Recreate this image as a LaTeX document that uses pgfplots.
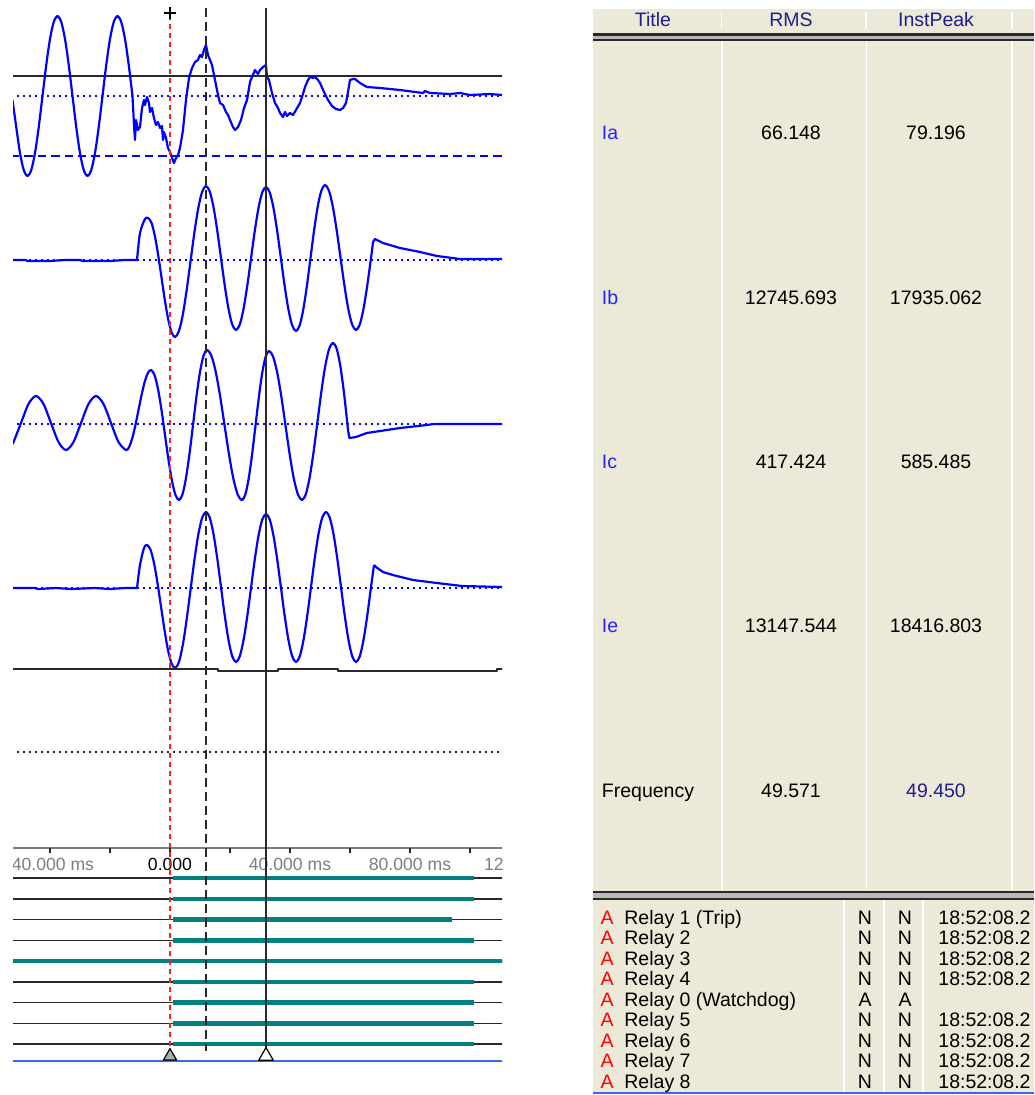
\documentclass[border=0pt]{standalone}
\usepackage{pgfplots}
\pgfplotsset{compat=1.18}
\usepackage{fontspec}
\setmainfont{Liberation Sans}

\definecolor{trace}{RGB}{0,0,255}
\definecolor{panel}{RGB}{236,233,216}
\definecolor{hdr}{RGB}{30,30,140}
\definecolor{lbl}{RGB}{35,35,255}
\definecolor{relayon}{RGB}{0,128,128}
\definecolor{cursorred}{RGB}{255,30,30}
\definecolor{tickgray}{RGB}{125,125,125}
\definecolor{baseblue}{RGB}{55,105,225}
\definecolor{rule}{RGB}{40,40,40}

\newcommand\uifont{\fontsize{9.75pt}{11pt}\selectfont}
\newcommand\tickfont{\fontsize{8.8pt}{10pt}\selectfont}

\begin{document}
\begin{tikzpicture}
\useasboundingbox (0,0) rectangle (517pt,-547.5pt);

% ---------------- waveform / digital channel view ----------------
% x: time in ms relative to trigger, y: screen row (top = 0)
\begin{axis}[
  at={(6.5pt,0pt)}, anchor=north west,
  scale only axis, width=244.5pt, height=547.5pt,
  xmin=-52.333, xmax=110.667, ymin=0, ymax=1095,
  y dir=reverse, enlargelimits=false,
  axis line style={draw=none}, xtick=\empty, ytick=\empty,
  clip=true,
  every axis plot/.append style={line join=round},
]
% channel reference lines
\addplot[rule, line width=1pt] coordinates {(-53,76) (111,76)};
\addplot[trace, line width=1pt, dash pattern=on 1pt off 2pt] coordinates {(-53,96) (111,96)};
\addplot[trace, line width=1pt, dash pattern=on 4.2pt off 2.5pt] coordinates {(-53,156) (111,156)};
\addplot[trace, line width=1pt, dash pattern=on 1pt off 2pt] coordinates {(-53,260) (111,260)};
\addplot[trace, line width=1pt, dash pattern=on 1pt off 2pt] coordinates {(-53,424) (111,424)};
\addplot[trace, line width=1pt, dash pattern=on 1pt off 2pt] coordinates {(-53,588) (111,588)};
\addplot[rule, line width=1pt, dash pattern=on 1pt off 2pt] coordinates {(-53,752) (111,752)};

% Ia
\addplot[trace, line width=1.1pt, smooth] coordinates {
(-52.5,100) (-51.25,127) (-50,153) (-48.75,170) (-47.5,176) (-46.25,170) (-45,153)
(-43.75,127) (-42.5,96) (-41.25,65) (-40,39) (-38.75,22) (-37.5,16) (-36.25,22)
(-35,39) (-33.75,65) (-32.5,96) (-31.25,127) (-30,153) (-28.75,170) (-27.5,176)
(-26.25,170) (-25,153) (-23.75,127) (-22.5,96) (-21.25,65) (-20,39) (-18.75,22)
(-17.5,16) (-16.25,22) (-15,39) (-13.75,65) (-12.5,96)};
\addplot[trace, line width=1.1pt] coordinates {
(-12.5,96) (-12,125) (-11.67,140) (-11.33,120) (-10.67,130) (-10,127) (-9.33,108)
(-8.67,100) (-8.33,105) (-7.67,97) (-7,103) (-6.67,112) (-6,108) (-5.33,118)
(-4.67,125) (-4,122) (-3.33,128) (-2.67,126) (-2.33,140) (-2,132) (-1.33,138)
(-0.67,148) (0,152) (0.67,158) (1.33,163) (2,158) (2.67,155) (3.33,148) (4.33,130)
(5.33,100) (6.33,78) (7.33,68) (8.33,62) (9.33,60) (10,55) (10.67,57) (11.33,50)
(12,45) (12.67,55) (13.33,60) (14,65) (15,80) (16,95) (16.67,103) (17.67,105)
(18.67,112) (19.33,115) (20,120) (21,127) (21.67,130) (22.67,127) (23.67,120)
(24.67,108) (25.67,100) (26.67,82) (27.33,77) (28.33,70) (29.33,74) (30,70)
(31,67) (32,65) (32.33,77) (33,80) (34,93) (35,103) (36,108) (36.67,113)
(37.67,117) (38.33,112) (39,116) (40,113) (41,115) (42,110) (43.33,103) (44.33,94)
(45,87) (46,80) (46.67,77) (47.67,78) (48.33,77) (49.33,80) (50,83) (51.33,92)
(52.67,100) (54,106) (55.33,109) (56.67,110) (57.67,108) (58.67,103) (59.33,92)
(60,80) (61,79) (61.67,79) (63.33,83) (65.67,87) (70,88) (76.67,90) (84.33,93)
(85,91) (86.67,93) (93.33,94) (96.67,93) (100,95) (106.67,94) (110.67,95)};

% Ib
\addplot[trace, line width=1.1pt] coordinates {
(-53,260) (-48,260) (-47.5,261) (-40,261) (-35,260) (-30,260) (-29,261) (-20,261)
(-15,260) (-11,260)};
\addplot[trace, line width=1.1pt, smooth] coordinates {
(-11,260) (-10,233) (-8.33,219) (-7.33,218)
(-6.21,222.5) (-5.08,235.4) (-3.96,254.7) (-2.83,277.5) (-1.71,300.3) (-0.58,319.6) (0.54,332.5) (1.67,337)
(2.96,331.2) (4.25,314.9) (5.54,290.4) (6.83,261.5) (8.13,232.6) (9.42,208.1) (10.71,191.8) (12,186)
(13.25,191.5) (14.5,207.1) (15.75,230.5) (17,258) (18.25,285.5) (19.5,308.9) (20.75,324.5) (22,330)
(23.25,324.6) (24.5,309.1) (25.75,285.9) (27,258.5) (28.25,231.1) (29.5,207.9) (30.75,192.4) (32,187)
(33.25,192.5) (34.5,208.1) (35.75,231.5) (37,259) (38.25,286.5) (39.5,309.9) (40.75,325.5) (42,331)
(43.21,325.4) (44.42,309.6) (45.63,285.9) (46.83,258) (48.04,230.1) (49.25,206.4) (50.46,190.6) (51.67,185)
(52.96,190.5) (54.25,206.2) (55.54,229.8) (56.83,257.5) (58.13,285.2) (59.42,308.8) (60.71,324.5) (62,330)
(63.25,324.5) (64.5,308.9) (65.75,285.5) (67,258) (67.67,242)};
\addplot[trace, line width=1.1pt] coordinates {
(67.67,242) (68.33,239) (71,243) (76.67,248) (83.33,252) (89,256) (96.67,259) (111,259)};

% Ic
\addplot[trace, line width=1.1pt, smooth] coordinates {
(-53,445) (-52.17,442) (-49.67,423) (-47.17,404) (-44.67,396) (-42.17,404)
(-39.67,423) (-37.17,442) (-34.67,450) (-32.17,442) (-29.67,423) (-27.17,404)
(-24.67,396) (-22.17,404) (-19.67,423) (-17.17,442) (-14.67,450)
(-13.63,447) (-12.58,438.3) (-11.54,425.3) (-10.5,410) (-9.46,394.7) (-8.42,381.7) (-7.38,373) (-6.33,370)
(-5.17,375) (-4,389) (-2.83,410.1) (-1.67,435) (-0.5,459.9) (0.67,481) (1.83,495) (3,500)
(4.17,494.3) (5.33,478) (6.5,453.7) (7.67,425) (8.83,396.3) (10,372) (11.17,355.7) (12.33,350)
(13.79,355.7) (15.25,372) (16.71,396.3) (18.17,425) (19.63,453.7) (21.08,478) (22.54,494.3) (24,500)
(25.13,494.3) (26.25,478.2) (27.38,454) (28.5,425.5) (29.63,397) (30.75,372.8) (31.88,356.7) (33,351)
(34.38,356.7) (35.75,372.8) (37.13,397) (38.5,425.5) (39.88,454) (41.25,478.2) (42.63,494.3) (44,500)
(45.29,494) (46.58,477) (47.88,451.5) (49.17,421.5) (50.46,391.5) (51.75,366) (53.04,349) (54.33,343)
(55.58,349) (56.83,367) (58.08,395) (59.33,430)};
\addplot[trace, line width=1.1pt] coordinates {
(59.33,430) (59.8,438) (62,437) (65.56,433) (70,431) (76.67,428) (85.56,425) (88,424) (111,424)};

% Ie
\addplot[trace, line width=1.1pt] coordinates {
(-53,588) (-45,588) (-44,589) (-38,588) (-33,589) (-25,588) (-20,589) (-15,588) (-11,588)};
\addplot[trace, line width=1.1pt, smooth] coordinates {
(-11,588) (-10,565) (-8.67,548) (-7.67,545)
(-6.5,549.7) (-5.33,563) (-4.17,583) (-3,606.5) (-1.83,630) (-0.67,650) (0.5,663.3) (1.67,668)
(2.96,662.1) (4.25,645.2) (5.54,619.8) (6.83,590) (8.13,560.2) (9.42,534.8) (10.71,517.9) (12,512)
(13.25,517.7) (14.5,534) (15.75,558.3) (17,587) (18.25,615.7) (19.5,640) (20.75,656.3) (22,662)
(23.25,656.4) (24.5,640.3) (25.75,616.3) (27,588) (28.25,559.7) (29.5,535.7) (30.75,519.6) (32,514)
(33.25,519.6) (34.5,535.7) (35.75,559.7) (37,588) (38.25,616.3) (39.5,640.3) (40.75,656.4) (42,662)
(43.25,656.3) (44.5,640) (45.75,615.7) (47,587) (48.25,558.3) (49.5,534) (50.75,517.7) (52,512)
(53.25,517.7) (54.5,534) (55.75,558.3) (57,587) (58.25,615.7) (59.5,640) (60.75,656.3) (62,662)
(63.25,656.3) (64.5,640) (65.75,615.7) (67,587) (68,565)};
\addplot[trace, line width=1.1pt] coordinates {
(68,565) (68.67,567) (71,572) (74.33,575) (81,580) (89,583) (97.33,586) (111,587)};

% status trace
\addplot[rule, line width=1pt] coordinates {
(-53,669) (16.1,669) (16.1,671) (36.1,671) (36.1,669) (56.1,669) (56.1,671)
(108.9,671) (108.9,669) (111,669)};

% time axis
\addplot[tickgray, line width=0.7pt] coordinates {(-53,848) (111,848)};
\pgfplotsinvokeforeach{-40,-20,0,20,40,60,80,100}{
  \draw[rule, line width=0.7pt] (axis cs:#1,848) -- (axis cs:#1,853);
}
\node[anchor=base, font=\tickfont, text=tickgray] at (axis cs:-40,870) {-40.000 ms};
\node[anchor=base, font=\tickfont, text=black]    at (axis cs:0,870)   {0.000};
\node[anchor=base, font=\tickfont, text=tickgray] at (axis cs:40,870)  {40.000 ms};
\node[anchor=base, font=\tickfont, text=tickgray] at (axis cs:80,870)  {80.000 ms};
\node[anchor=base, font=\tickfont, text=tickgray] at (axis cs:120,870) {120.000 ms};

% relay contacts: idle line and picked-up interval
\pgfplotsinvokeforeach{878,898.8,919.5,940.3,961,981.8,1002.5,1023.3,1044}{
  \addplot[rule, line width=0.8pt] coordinates {(-53,#1) (111,#1)};
}
\addplot[relayon, line width=2.2pt] coordinates {(0.9,878) (101.3,878)};
\addplot[relayon, line width=2.2pt] coordinates {(0.9,898.8) (101.3,898.8)};
\addplot[relayon, line width=2.2pt] coordinates {(0.9,919.5) (93.9,919.5)};
\addplot[relayon, line width=2.2pt] coordinates {(0.9,940.3) (101.3,940.3)};
\addplot[relayon, line width=2.2pt] coordinates {(-53,961) (111,961)};
\addplot[relayon, line width=2.2pt] coordinates {(0.9,981.8) (101.3,981.8)};
\addplot[relayon, line width=2.2pt] coordinates {(0.9,1002.5) (101.3,1002.5)};
\addplot[relayon, line width=2.2pt] coordinates {(0.9,1023.3) (101.3,1023.3)};
\addplot[relayon, line width=2.2pt] coordinates {(0.9,1044) (101.3,1044)};

% cursors
\addplot[cursorred, line width=1pt, dash pattern=on 2.5pt off 2pt] coordinates {(0,15) (0,1050)};
\addplot[rule, line width=1.2pt, dash pattern=on 4.3pt off 2.7pt] coordinates {(12,8) (12,1051)};
\addplot[rule, line width=1pt] coordinates {(32,8) (32,1049)};
\addplot[black, mark=+, mark size=3pt, line width=0.8pt, only marks] coordinates {(0,13)};

% cursor markers and baseline
\addplot[only marks, mark=triangle*, mark size=3.8pt,
  mark options={fill=gray!65, draw=black, line width=0.6pt}] coordinates {(0,1056.2)};
\addplot[only marks, mark=triangle*, mark size=4.2pt,
  mark options={fill=white, draw=black, line width=0.6pt}] coordinates {(32,1056)};
\addplot[baseblue, line width=0.9pt] coordinates {(-53,1061) (111,1061)};
\end{axis}

% ---------------- measurement and relay table ----------------
\begin{scope}[x=0.5pt, y=-0.5pt, every node/.style={font=\uifont, inner sep=0pt}]
\clip (593,0) rectangle (1034,1095);
\fill[panel] (593,9) rectangle (1034,1093);

% header
\foreach \cx in {721.5,866,1012}
  \draw[white, line width=0.9pt] (\cx,12) -- (\cx,29);
\node[anchor=base, text=hdr] at (653,27) {Title};
\node[anchor=base, text=hdr] at (791,27) {RMS};
\node[anchor=base, text=hdr] at (936,27) {InstPeak};
\fill[gray!55] (593,33.5) rectangle (1034,41);
\draw[rule, line width=1.2pt] (593,34.7) -- (1034,34.7);
\draw[rule, line width=1.2pt] (593,39.8) -- (1034,39.8);

% measurement body
\foreach \cx in {722,866.5,1012}
  \draw[white, line width=0.9pt] (\cx,41) -- (\cx,890);
\foreach \name/\rms/\pk [count=\i from 0] in
  {Ia/66.148/79.196, Ib/12745.693/17935.062, Ic/417.424/585.485, Ie/13147.544/18416.803}{
  \pgfmathsetmacro\by{140+164.2*\i}
  \node[anchor=base west, text=lbl] at (601.5,\by) {\name};
  \node[anchor=base] at (791,\by) {\rms};
  \node[anchor=base] at (936,\by) {\pk};
}
\node[anchor=base west] at (601.5,797) {Frequency};
\node[anchor=base] at (791,797) {49.571};
\node[anchor=base, text=hdr] at (936,797) {49.450};

% relay list
\fill[gray!55] (593,890.5) rectangle (1034,900);
\draw[rule, line width=1.1pt] (593,891.7) -- (1034,891.7);
\draw[rule, line width=1.1pt] (593,898.6) -- (1034,898.6);
\foreach \cx in {844.3,884,923.3}
  \draw[white, line width=0.9pt] (\cx,900) -- (\cx,1092);
\foreach \name/\a/\b/\t [count=\i from 0] in
  {Relay 1 (Trip)/N/N/18:52:08.2, Relay 2/N/N/18:52:08.2, Relay 3/N/N/18:52:08.2,
   Relay 4/N/N/18:52:08.2, Relay 0 (Watchdog)/A/A/, Relay 5/N/N/18:52:08.2,
   Relay 6/N/N/18:52:08.2, Relay 7/N/N/18:52:08.2, Relay 8/N/N/18:52:08.2}{
  \pgfmathsetmacro\by{924+20.55*\i}
  \node[anchor=base, text=red] at (607,\by) {A};
  \node[anchor=base west] at (624,\by) {\name};
  \node[anchor=base] at (865,\by) {\a};
  \node[anchor=base] at (905,\by) {\b};
  \node[anchor=base west] at (938,\by) {\t};
}
\draw[baseblue, line width=1pt] (593,1093) -- (1034,1093);
\end{scope}
\end{tikzpicture}
\end{document}
